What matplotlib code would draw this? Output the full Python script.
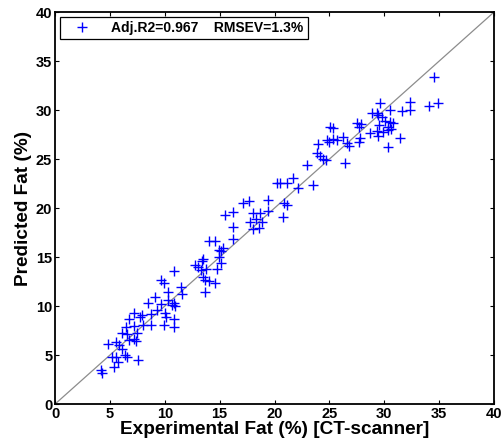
import matplotlib
matplotlib.use('Agg')
import matplotlib.pyplot as plt

plt.rcParams['font.family'] = ['Liberation Sans', 'DejaVu Sans']

# experimental fat (CT-scanner) vs predicted fat
exp_fat = [34.5, 29.6, 32.3, 30.5, 31.6, 32.3, 34.1, 34.9, 28.9, 29.3, 29.4, 29.8,
           30.1, 30.5, 30.8, 29.5, 30.3, 29.3, 29.9, 30.3, 30.6, 29.4, 31.4, 30.3, 28.7,
           25.1, 25.3, 27.5, 27.9, 27.7, 24.0, 24.8, 25.0, 25.3, 26.2, 25.7, 26.6, 26.8,
           27.8, 27.7, 23.9, 24.1, 24.7, 24.4, 26.4, 23.0, 21.7, 22.1, 23.5,
           20.2, 20.5, 21.1, 17.1, 17.7, 19.4, 15.5, 16.2, 20.9, 21.1, 20.8, 18.0, 18.7,
           19.4, 18.3, 17.8, 18.9, 18.0, 18.6, 16.2, 16.2, 14.0, 14.6, 14.9, 15.3, 15.1,
           14.9, 13.5, 15.1, 12.8, 13.0, 13.3, 13.8, 14.8, 13.5, 13.7, 14.0, 14.6, 13.7, 13.4,
           10.8, 9.7, 9.9, 11.5, 11.6, 10.3, 9.1, 8.5, 9.7, 10.3, 10.7, 10.9, 10.8,
           7.2, 7.9, 7.7, 8.7, 9.3, 10.0, 10.1, 6.7, 6.5, 7.2, 8.0, 8.7, 10.8, 9.9, 10.8,
           6.1, 6.6, 7.5, 6.7, 7.2, 7.4, 4.8, 5.6, 5.8, 6.1, 5.2, 5.6, 6.4, 6.6, 5.7, 5.4,
           7.6, 4.2, 4.3]
pred_fat = [33.4, 30.7, 30.8, 30.0, 29.9, 30.0, 30.4, 30.7, 29.7, 29.7, 29.5, 29.3,
            28.9, 28.8, 28.7, 28.5, 28.3, 27.9, 27.8, 28.0, 28.1, 27.4, 27.2, 26.2, 27.7,
            28.3, 28.2, 28.7, 28.6, 28.3, 26.5, 26.9, 26.7, 27.0, 27.3, 26.9, 26.6, 26.3,
            27.2, 26.7, 25.6, 25.3, 24.9, 25.0, 24.6, 24.4, 23.1, 22.1, 22.4,
            22.6, 22.6, 22.6, 20.5, 20.7, 20.8, 19.3, 19.6, 20.5, 20.3, 19.1, 19.5, 19.5,
            19.7, 18.9, 18.6, 18.6, 17.9, 18.0, 18.1, 16.8, 16.6, 16.6, 15.7, 15.9, 15.6,
            15.0, 14.8, 14.4, 14.2, 14.0, 13.7, 13.8, 13.8, 13.0, 12.7, 12.6, 12.4, 11.4, 14.6,
            13.6, 12.7, 12.4, 11.9, 11.2, 11.4, 10.9, 10.3, 10.2, 10.6, 10.1, 10.0, 10.3,
            9.3, 9.1, 8.9, 9.2, 9.6, 9.3, 8.9, 8.7, 7.9, 8.0, 8.1, 8.1, 8.7, 8.1, 7.9,
            7.3, 7.2, 7.3, 6.5, 6.6, 6.4, 6.1, 6.3, 6.0, 5.6, 4.8, 4.8, 5.0, 4.8, 4.3, 3.8,
            4.5, 3.5, 3.2]

ticks = [0, 5, 10, 15, 20, 25, 30, 35, 40]
legend_text = 'Adj.R2=0.967    RMSEV=1.3%'

fig = plt.figure(figsize=(5.02, 4.48), dpi=100)
ax = fig.add_axes([0.1096, 0.098, 0.8745, 0.875])

ax.plot([0, 40], [0, 40], color='#8c8c8c', lw=0.9, zorder=1)
ax.plot(exp_fat, pred_fat, '+', color='#0000ff', ms=7, mew=1.0, label=legend_text, zorder=2)

ax.set_xlim(0, 40)
ax.set_ylim(0, 40)
ax.set_xticks(ticks)
ax.set_yticks(ticks)
ax.tick_params(direction='in', length=3, width=0.8, top=True, right=True, pad=2,
               labelsize=10.5)
for lab in ax.get_xticklabels() + ax.get_yticklabels():
    lab.set_fontweight('bold')
for s in ax.spines.values():
    s.set_linewidth(1.3)

ax.set_xlabel('Experimental Fat (%) [CT-scanner]', fontsize=13.7, fontweight='bold', labelpad=0)
ax.set_ylabel('Predicted Fat (%)', fontsize=13.7, fontweight='bold', labelpad=3)

leg = ax.legend(loc='upper left', fancybox=False, edgecolor='black', framealpha=1,
                prop={'weight': 'bold', 'size': 10}, borderaxespad=0.35,
                handlelength=2.6, borderpad=0.3, handletextpad=0.8)
leg.get_frame().set_linewidth(0.9)

fig.savefig('out.png', dpi=100)
